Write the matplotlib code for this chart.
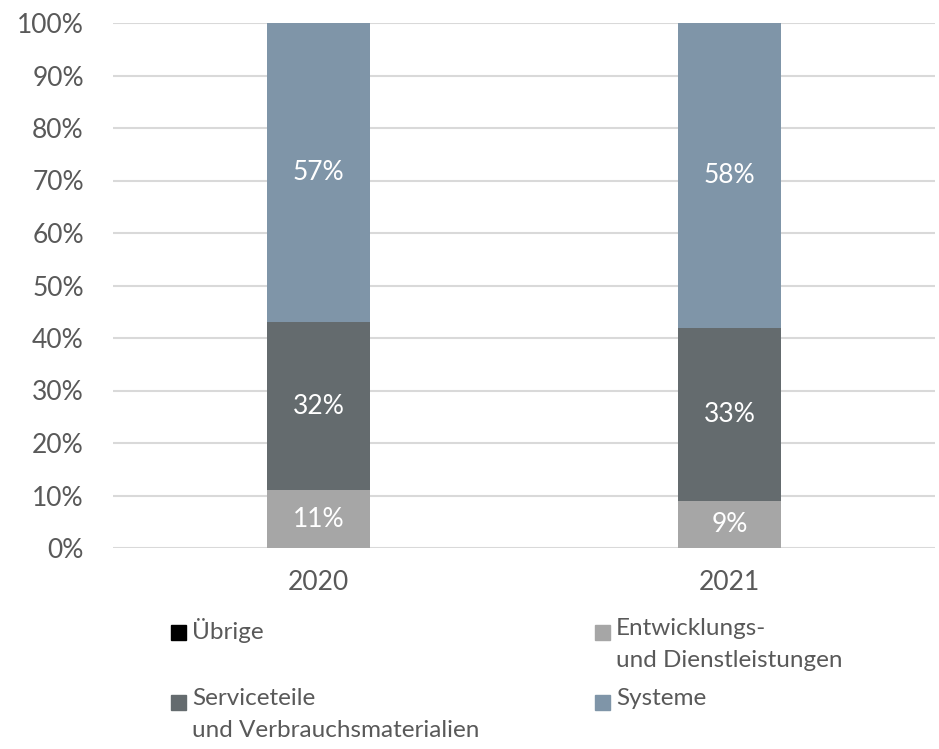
import matplotlib.pyplot as plt
from matplotlib.patches import Rectangle

plt.rcParams['font.family'] = ['Lato', 'DejaVu Sans']

years = ['2020', '2021']
series = ['Übrige', 'Entwicklungs-\nund Dienstleistungen',
          'Serviceteile\nund Verbrauchsmaterialien', 'Systeme']
uebrige = [0, 0]
entwicklung = [11, 9]
service = [32, 33]
systeme = [57, 58]
colors = ['#000000', '#a6a6a6', '#646b6e', '#7f95a8']
text_col = '#595959'

fig = plt.figure(figsize=(9.39, 7.49), dpi=100)
ax = fig.add_axes([113 / 939, 1 - 548 / 749, 822 / 939, 525 / 749])

x = range(len(years))
bottom = [0, 0]
for vals, col in zip([uebrige, entwicklung, service, systeme], colors):
    bars = ax.bar(x, vals, width=0.25, bottom=bottom, color=col, zorder=3)
    for b, v, bt in zip(bars, vals, bottom):
        if v > 0:
            ax.text(b.get_x() + b.get_width() / 2, bt + v / 2, f'{v}%',
                    ha='center', va='center', color='white', fontsize=19, zorder=4)
    bottom = [a + b for a, b in zip(bottom, vals)]

ax.set_xlim(-0.5, 1.5)
ax.set_ylim(0, 100)
ax.set_yticks(range(0, 101, 10))
ax.set_yticklabels([f'{t}%' for t in range(0, 101, 10)])
ax.set_xticks(list(x))
ax.set_xticklabels(years)
ax.tick_params(length=0, labelsize=19, colors=text_col)
ax.tick_params(axis='y', pad=21)
ax.tick_params(axis='x', pad=16)
ax.yaxis.grid(True, color='#d9d9d9', linewidth=1.5, zorder=0)
for s in ax.spines.values():
    s.set_visible(False)

# legend, two columns
pos = [(171, 632), (595, 632), (171, 702), (595, 702)]
for (px, py), name, col in zip(pos, series, colors):
    fig.patches.append(Rectangle((px / 939, 1 - (py + 7.5) / 749), 15 / 939, 15 / 749,
                                 transform=fig.transFigure, color=col))
    fig.text((px + 21) / 939, 1 - (py - 14) / 749, name, ha='left', va='top',
             fontsize=17.5, color=text_col, linespacing=1.65)

fig.savefig('out.png', dpi=100)
